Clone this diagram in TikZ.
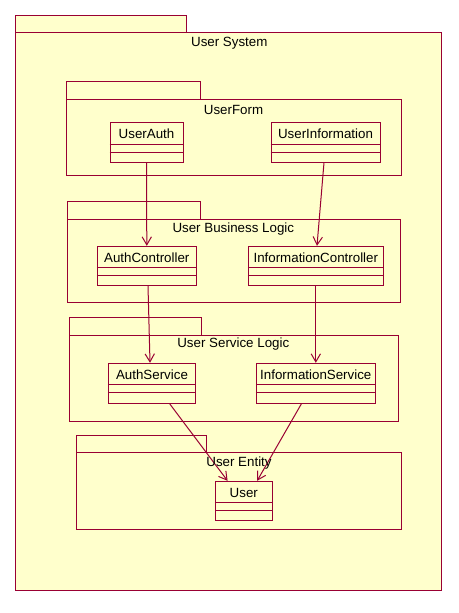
\documentclass[tikz,border=0pt]{standalone}
\usepackage{fontspec}
\setmainfont{Liberation Sans}
\usetikzlibrary{fit,calc,arrows.meta}
\definecolor{umlline}{HTML}{990033}
\definecolor{umlfill}{HTML}{FFFFCC}
\tikzset{
  umlbox/.style={draw=umlline, fill=umlfill, line width=0.75pt, inner sep=0pt},
  compline/.style={draw=umlline, line width=0.75pt},
  lbl/.style={font=\fontsize{10}{12}\selectfont, inner sep=0pt, text=black},
  dep/.style={draw=umlline, line width=0.75pt, -{Straight Barb[length=6pt,width=7pt]}},
}
\newcommand\umlclass[6]{%
  \node[umlbox, fit={(#2,#3) (#4,#5)}] (#1) {};
  \draw[compline] ($(#1.north west)+(0,22)$) -- ($(#1.north east)+(0,22)$);
  \draw[compline] ($(#1.north west)+(0,30)$) -- ($(#1.north east)+(0,30)$);
  \node[lbl] (#1-t) at ($(#1.north)+(0,11.7)$) {#6};
}
\newcommand\umlpkg[8]{% name, x1, tabtop, tabx2, bodytop, x2, bottom, label
  \node[umlbox, fit={(#2,#3) (#4,#5)}] (#1-tab) {};
  \node[umlbox, fit={(#2,#5) (#6,#7)}] (#1) {};
  \node[lbl] (#1-t) at ($(#1.north)+(0,10.5)$) {#8};
}
\begin{document}
\begin{tikzpicture}[x=0.75pt,y=-0.75pt]
\useasboundingbox (0,0) rectangle (459,613);
% packages
\umlpkg{sys}{15}{16}{186}{33}{441}{590}{}
\node[lbl] (sys-lbl) at (229.3,43.7) {User System};
\umlpkg{form}{66.5}{82}{200}{100}{401}{175}{}
\node[lbl] (form-lbl) at (233.5,110) {UserForm};
\umlpkg{biz}{67.3}{201.3}{200.3}{219.3}{400.3}{302}{}
\node[lbl] (biz-lbl) at (233.3,229.3) {User Business Logic};
\umlpkg{svc}{69.3}{317.3}{201.3}{335.3}{398.7}{421.3}{}
\node[lbl] (svc-lbl) at (233.3,344.3) {User Service Logic};
\umlpkg{ent}{76.3}{435.3}{206.7}{452.3}{401.3}{529.3}{}
% classes
\umlclass{ua}{110}{123}{183}{162}{UserAuth}
\umlclass{ui}{271}{123}{380}{162}{UserInformation}
\umlclass{ac}{97.3}{246.3}{196.3}{285.3}{AuthController}
\umlclass{ic}{248.3}{246.3}{383.3}{285.3}{InformationController}
\umlclass{as}{108.3}{363.3}{195.7}{403.3}{AuthService}
\umlclass{is}{256.3}{363.3}{375.3}{403.3}{InformationService}
\umlclass{us}{215.3}{481.3}{272.3}{520.3}{User}
% connectors
\draw[dep] (ua.south) -- (ac.north);
\draw[dep] ($(ui.south)+(-1.5,0)$) -- ($(ic.north)+(1.2,0)$);
\draw[dep] ($(ac.south)+(1.2,0)$) -- ($(as.north)+(-2,0)$);
\draw[dep] (ic.south) -- (is.north);
\draw[dep] ($(as.south west)!0.7!(as.south east)$) -- ($(us.north west)!0.22!(us.north east)$);
\draw[dep] ($(is.south west)!0.38!(is.south east)$) -- ($(us.north west)!0.73!(us.north east)$);
\node[lbl] (ent-lbl) at (239,462.7) {User Entity};
\end{tikzpicture}
\end{document}
